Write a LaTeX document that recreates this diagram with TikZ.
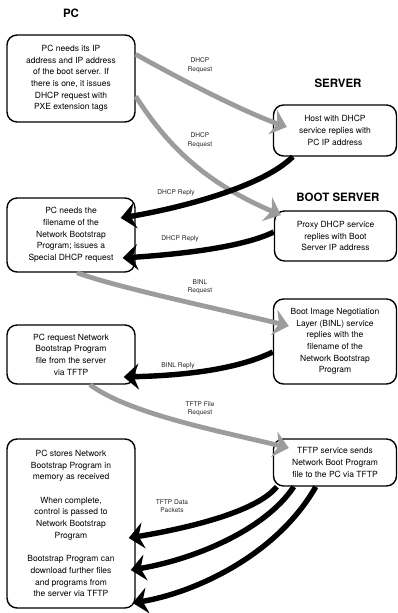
\documentclass[tikz,border=0pt]{standalone}
\usepackage{fontspec}
\setmainfont{TeX Gyre Heros}
\usetikzlibrary{arrows.meta,calc}
\definecolor{arrgray}{HTML}{9C9C9C}
\begin{document}
\begin{tikzpicture}[x=1pt,y=1pt,
  box/.style={draw, line width=1.4pt, rounded corners=10pt, fill=white, align=center,
    minimum width=#1, inner sep=2pt, font=\fontsize{8.5}{11.7}\selectfont},
  box/.default=128pt,
  head/.style={font=\fontsize{11.5}{13}\selectfont\bfseries},
  lbl/.style={font=\fontsize{6.6}{8.6}\selectfont, align=center, text=black!85, inner sep=0pt},
  garr/.style={draw=arrgray, line width=4.8pt, -{Stealth[length=15pt,width=26pt,inset=5pt]}},
  barr/.style={draw=black, line width=5.4pt, -{Stealth[length=15pt,width=26pt,inset=5pt]}}
]
\useasboundingbox (0,0) rectangle (398,-613);

% headings
\node[head] (hpc) at (71,-13) {PC};
\node[head] (hsrv) at (338,-83) {SERVER};
\node[head] (hboot) at (338,-197) {BOOT SERVER};

% PC side boxes
\node[box, minimum height=87pt] (pc1) at (71,-78.5) {PC needs its IP\\address and IP address\\of the boot server. If\\there is one, it issues\\DHCP request with\\PXE extension tags};
\node[box, minimum height=74pt] (pc2) at (71,-235) {PC needs the\\filename of the\\Network Bootstrap\\Program; issues a\\Special DHCP request};
\node[box, minimum height=59pt] (pc3) at (71,-354.5) {PC request Network\\Bootstrap Program\\file from the server\\via TFTP};
\node[box, minimum height=169pt] (pc4) at (71,-523.5) {PC stores Network\\Bootstrap Program in\\memory as received\\[11.7pt]When complete,\\control is passed to\\Network Bootstrap\\Program\\[11.7pt]Bootstrap Program can\\download further files\\and programs from\\the server via TFTP};

% server side boxes
\node[box=123pt, minimum height=51pt] (srv) at (335,-130.5) {Host with DHCP\\service replies with\\PC IP address};
\node[box=122pt, minimum height=50pt] (proxy) at (335.5,-236) {Proxy DHCP service\\replies with Boot\\Server IP address};
\node[box=123pt, minimum height=85pt] (binl) at (335,-341.5) {Boot Image Negotiation\\Layer (BINL) service\\replies with the\\filename of the\\Network Bootstrap\\Program};
\node[box=123pt, minimum height=47pt] (tftp) at (335,-462.5) {TFTP service sends\\Network Boot Program\\file to the PC via TFTP};

% connectors
\draw[garr] ($(pc1.north east)+(0,-20)$) .. controls +(50,-28) and +(-40,14) .. ($(srv.west)+(14,3.5)$);
\draw[garr] ($(pc1.north east)+(0,-62)$) .. controls +(35,-55) and +(-70,30) .. ($(proxy.west)+(7,21)$);
\draw[barr] ($(srv.south west)+(20,0)$) .. controls +(-30,-30) and +(60,10) .. ($(pc2.east)+(-15,17)$);
\draw[barr] ($(proxy.west)+(0,4)$) .. controls +(-35,-17) and +(45,3) .. ($(pc2.east)+(-13,-23)$);
\draw[garr] ($(pc2.south)+(6,0)$) .. controls +(40,-15) and +(-60,15) .. ($(binl.west)+(16,15.5)$);
\draw[barr] ($(binl.west)+(0,-10.5)$) .. controls +(-45,-22) and +(35,1) .. ($(pc3.east)+(-12,-22.5)$);
\draw[garr] ($(pc3.south)+(19,0)$) .. controls +(40,-30) and +(-60,15) .. ($(tftp.west)+(16,14.5)$);
\draw[barr] ($(tftp.south west)+(4,0)$) .. controls +(-20,-25) and +(60,10) .. ($(pc4.east)+(-7,-14.5)$);
\draw[barr] ($(tftp.south west)+(21,0)$) .. controls +(-30,-45) and +(60,10) .. ($(pc4.east)+(-5,-46.5)$);
\draw[barr] ($(tftp.south west)+(43,0)$) .. controls +(-40,-70) and +(60,10) .. ($(pc4.east)+(-3,-79.5)$);

% labels
\node[lbl] (l1) at (200,-65) {DHCP\\Request};
\node[lbl] (l2) at (200,-140) {DHCP\\Request};
\node[lbl] (l3) at (176,-193) {DHCP Reply};
\node[lbl] (l4) at (180,-239) {DHCP Reply};
\node[lbl] (l5) at (200,-287) {BINL\\Request};
\node[lbl] (l6) at (178,-366) {BINL Reply};
\node[lbl] (l7) at (200,-409) {TFTP File\\Request};
\node[lbl] (l8) at (172,-506) {TFTP Data\\Packets};
\end{tikzpicture}
\end{document}
